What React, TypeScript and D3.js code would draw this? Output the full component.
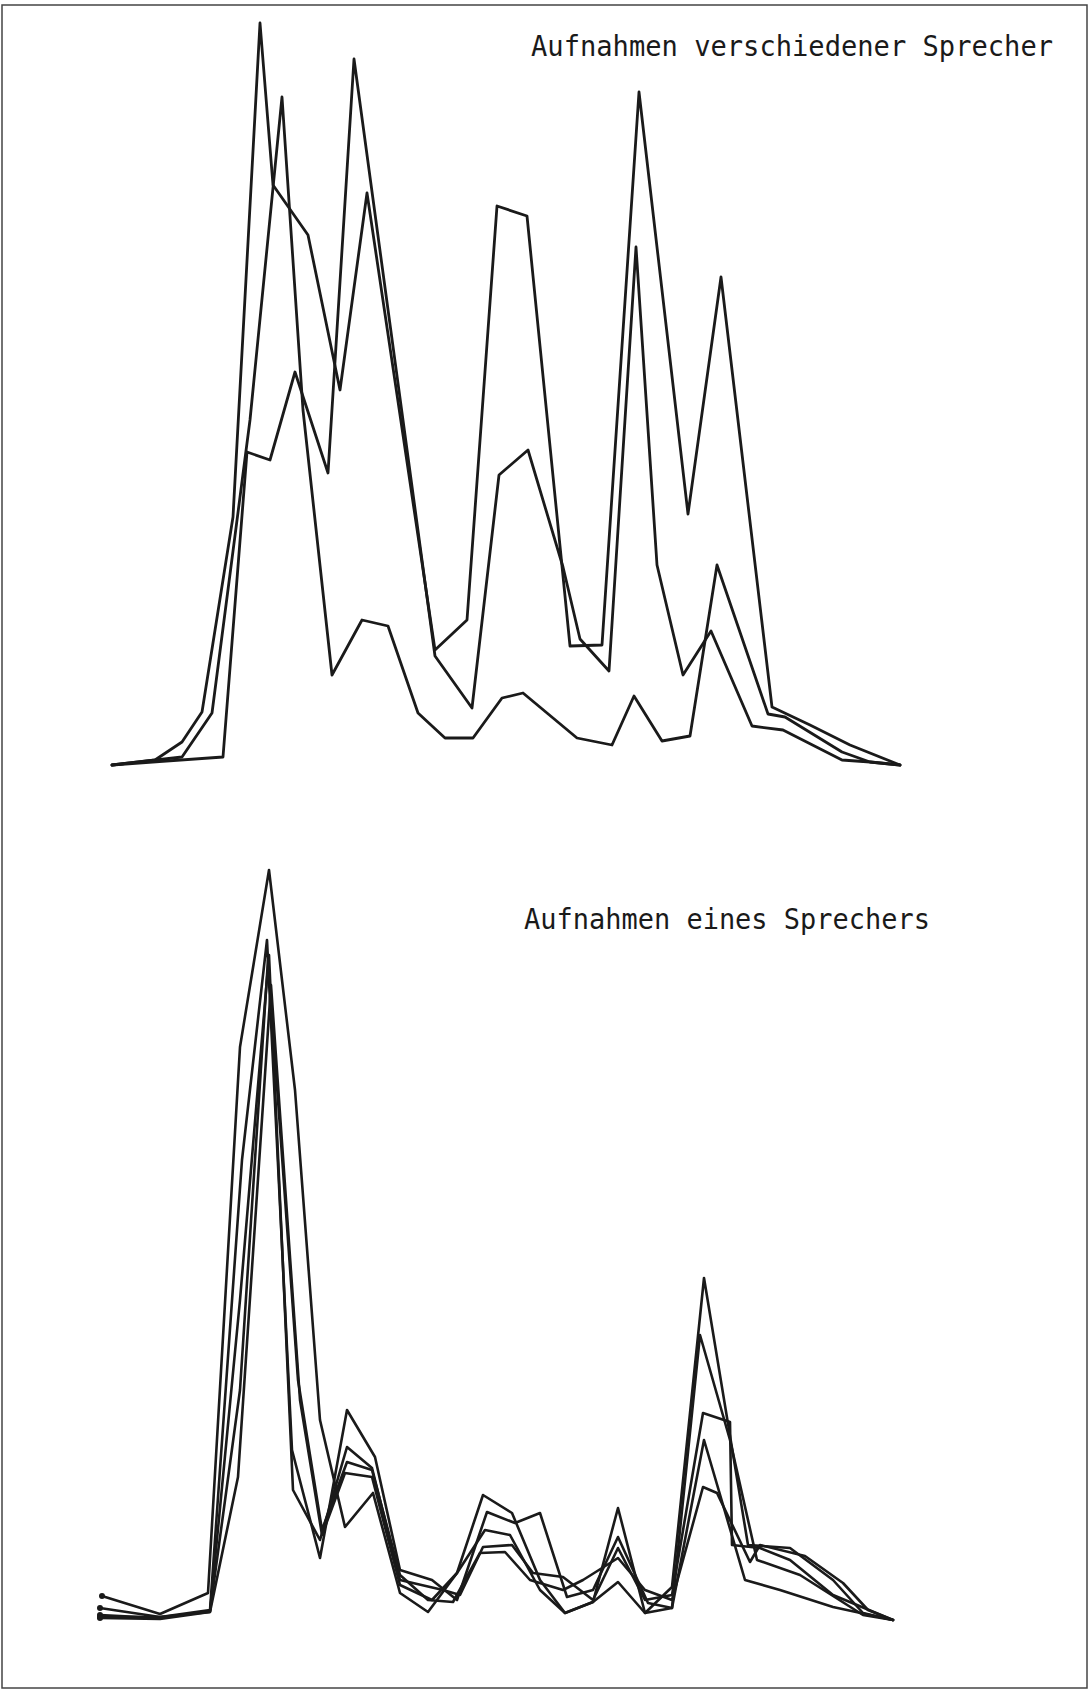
import React from 'react';
import * as d3 from 'd3';

const speakerA: [number, number][] = [
  [1.2, 0], [5.5, 0.5], [8.2, 2.3], [10.2, 5.3], [13.3, 24.8], [16.0, 74.2], [17.3, 58.0],
  [20.8, 53.0], [24.0, 37.5], [26.7, 57.2], [33.5, 11.5], [36.7, 14.5], [39.7, 55.9],
  [42.7, 54.9], [47.0, 11.9], [50.2, 12.0], [53.9, 67.3], [58.8, 25.1], [62.1, 48.8],
  [67.2, 5.8], [71.0, 4.0], [75.0, 2.0], [80.0, 0],
];
const speakerB: [number, number][] = [
  [1.2, 0], [8.2, 0.8], [11.2, 5.2], [15.0, 34.5], [18.2, 66.8], [20.3, 35.5], [23.2, 9.0],
  [26.2, 14.5], [28.8, 13.9], [31.8, 5.2], [34.5, 2.7], [37.3, 2.7], [40.2, 6.7], [42.3, 7.2],
  [47.7, 2.7], [51.2, 2.0], [53.4, 6.9], [56.2, 2.4], [59.0, 2.9], [61.7, 20.0], [66.8, 5.1],
  [68.5, 4.8], [74.2, 1.3], [77.0, 0.3], [80.0, 0],
];
const speakerC: [number, number][] = [
  [1.2, 0], [12.3, 0.8], [14.7, 31.3], [17.0, 30.5], [19.5, 39.3], [22.8, 29.2], [25.4, 70.6],
  [33.5, 10.9], [37.2, 5.7], [39.9, 29.0], [42.8, 31.5], [46.3, 19.8], [48.0, 12.6],
  [50.9, 9.4], [53.6, 51.8], [55.7, 20.0], [58.3, 9.0], [61.1, 13.4], [65.2, 3.9], [68.3, 3.5],
  [74.2, 0.5], [77.0, 0.3], [80.0, 0],
];

const take1: [number, number][] = [
  [0.2, 2.4], [6.0, 0.6], [10.8, 2.7], [14.0, 57.3], [16.9, 75.0], [19.5, 53.0], [22.0, 20.0],
  [24.5, 9.3], [27.3, 12.7], [30.0, 2.7], [32.8, 0.8], [35.7, 4.7], [38.3, 12.5], [41.2, 10.7],
  [44.0, 4.0], [46.5, 0.7], [49.3, 1.8], [51.8, 11.2], [54.5, 0.7], [57.2, 3.3], [60.4, 34.2],
  [64.8, 7.5], [69.0, 7.2], [73.3, 4.0], [76.3, 0.7], [79.3, 0],
];
const take2: [number, number][] = [
  [0, 1.2], [6.0, 0.3], [11.0, 1.0], [14.2, 46.0], [16.7, 68.0], [19.2, 17.0], [22.0, 6.2],
  [24.7, 21.0], [27.5, 16.3], [30.0, 5.0], [33.2, 4.0], [35.7, 2.0], [38.7, 10.8], [41.5, 9.7],
  [44.0, 10.7], [46.7, 2.3], [49.3, 3.0], [51.8, 8.3], [54.8, 1.7], [57.2, 1.2], [60.0, 28.5],
  [63.0, 18.0], [65.7, 6.0], [70.0, 4.5], [76.3, 0.5], [79.3, 0],
];
const take3: [number, number][] = [
  [0, 0.3], [6.0, 0.3], [11.0, 0.8], [14.0, 32.0], [16.9, 66.5], [19.3, 13.0], [22.0, 8.0],
  [24.7, 17.3], [27.2, 15.2], [30.0, 4.0], [34.3, 3.0], [36.0, 2.5], [38.3, 7.3], [41.2, 7.5],
  [43.3, 4.7], [46.3, 4.3], [49.3, 2.0], [51.8, 7.2], [54.5, 2.0], [57.2, 2.5], [60.3, 20.7],
  [63.0, 19.8], [63.2, 7.5], [66.0, 7.2], [69.0, 6.0], [73.3, 2.5], [79.3, 0],
];
const take4: [number, number][] = [
  [0, 0.5], [6.0, 0.2], [11.0, 0.9], [14.0, 23.0], [16.8, 66.0], [19.8, 24.0], [22.2, 9.0],
  [24.7, 15.8], [27.2, 15.0], [30.0, 4.5], [32.8, 2.0], [35.3, 1.8], [38.0, 6.7], [40.5, 6.8],
  [43.0, 4.0], [46.3, 3.0], [48.3, 4.0], [51.8, 6.2], [54.5, 3.0], [57.2, 2.0], [60.3, 13.3],
  [61.7, 12.7], [65.0, 5.8], [66.0, 7.5], [70.5, 6.4], [74.3, 3.7], [76.8, 1.0], [79.3, 0],
];
const take5: [number, number][] = [
  [0, 0.2], [6.0, 0.1], [11.0, 0.8], [13.8, 14.3], [17.1, 63.5], [20.0, 22.0], [22.2, 8.5],
  [24.5, 14.7], [27.2, 14.3], [30.0, 3.5], [33.2, 2.0], [35.7, 4.7], [38.5, 9.0], [41.0, 8.5],
  [44.0, 3.0], [46.5, 0.7], [49.3, 1.8], [51.8, 3.8], [54.5, 0.7], [57.2, 1.2], [60.4, 18.0],
  [64.5, 4.0], [68.0, 3.0], [73.3, 1.3], [79.3, 0],
];

const topSeries = [speakerA, speakerB, speakerC];
const bottomSeries = [take1, take2, take3, take4, take5];

const topLabel = 'Aufnahmen verschiedener Sprecher';
const bottomLabel = 'Aufnahmen eines Sprechers';

const W = 1089;
const H = 1694;

const x = d3.scaleLinear().domain([0, 80]).range([100, 900]);
const yTop = d3.scaleLinear().domain([0, 75]).range([765, 15]);
const yBottom = d3.scaleLinear().domain([0, 75]).range([1620, 870]);

const lineTop = d3.line<[number, number]>().x(d => x(d[0])).y(d => yTop(d[1]));
const lineBottom = d3.line<[number, number]>().x(d => x(d[0])).y(d => yBottom(d[1]));

const ink = '#1a1a1a';

export default function App() {
  return (
    <svg width={W} height={H} style={{ position: 'absolute', left: 0, top: 0, background: '#fff' }}>
      <rect x={2} y={5} width={1085} height={1683} fill="none" stroke="#444" strokeWidth={1.5} />

      {topSeries.map((s, i) => (
        <path key={'t' + i} d={lineTop(s) || ''} fill="none" stroke={ink} strokeWidth={2.8}
          strokeLinejoin="round" strokeLinecap="round" />
      ))}
      {bottomSeries.map((s, i) => (
        <path key={'b' + i} d={lineBottom(s) || ''} fill="none" stroke={ink} strokeWidth={2.6}
          strokeLinejoin="round" strokeLinecap="round" />
      ))}
      {bottomSeries.map((s, i) => (
        <circle key={'d' + i} cx={x(s[0][0])} cy={yBottom(s[0][1])} r={3} fill={ink} />
      ))}

      <text x={531} y={56} fontFamily="DejaVu Sans Mono" fontSize={28} fill={ink}
        textLength={522} lengthAdjust="spacingAndGlyphs">{topLabel}</text>
      <text x={524} y={929} fontFamily="DejaVu Sans Mono" fontSize={28} fill={ink}
        textLength={406} lengthAdjust="spacingAndGlyphs">{bottomLabel}</text>
    </svg>
  );
}
